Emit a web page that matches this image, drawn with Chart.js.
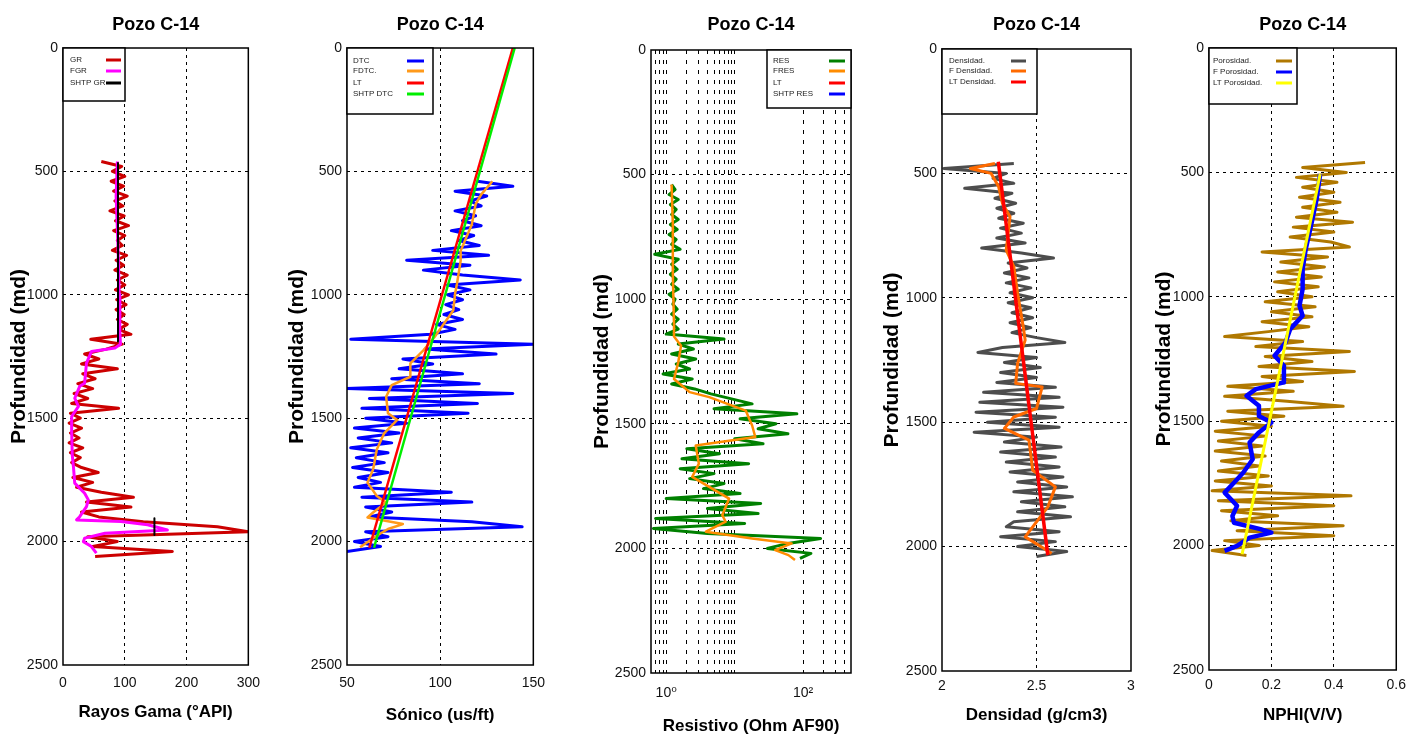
<!DOCTYPE html>
<html>
<head>
<meta charset="utf-8">
<script src="https://cdn.jsdelivr.net/npm/chart.js@4.4.1/dist/chart.umd.min.js"></script>
<style>
    html, body { margin: 0; padding: 0; background: #fff; }
    body { width: 1413px; height: 739px; position: relative; overflow: hidden; }
    canvas { position: absolute; top: 0; }
</style>
</head>
<body>
<canvas id="gr" width="270" height="739" style="left:0"></canvas>
<canvas id="dtc" width="270" height="739" style="left:285px"></canvas>
<canvas id="res" width="280" height="739" style="left:590px"></canvas>
<canvas id="dens" width="270" height="739" style="left:880px"></canvas>
<canvas id="poro" width="263" height="739" style="left:1150px"></canvas>
<script>
// depth samples (md) shared by the raw logs
const DEPTH = [
    460, 480, 500, 520, 540, 560, 580, 600, 620, 640,
    660, 680, 700, 720, 740, 760, 780, 800, 820, 840,
    860, 880, 900, 920, 940, 960, 980, 1000, 1020, 1040,
    1060, 1080, 1100, 1120, 1140, 1160, 1180, 1200, 1220, 1240,
    1260, 1280, 1300, 1320, 1340, 1360, 1380, 1400, 1420, 1440,
    1460, 1480, 1500, 1520, 1540, 1560, 1580, 1600, 1620, 1640,
    1660, 1680, 1700, 1720, 1740, 1760, 1780, 1800, 1820, 1840,
    1860, 1880, 1900, 1920, 1940, 1960, 1980, 2000, 2020, 2040,
    2060,
];
const DEPTH_TICKS = [0, 500, 1000, 1500, 2000, 2500];

// Rayos Gama
const GR = [
    62, 95, 80, 100, 78, 98, 82, 104, 84, 97,
    76, 99, 85, 106, 82, 100, 88, 96, 80, 103,
    86, 98, 84, 104, 88, 100, 85, 106, 87, 102,
    86, 99, 88, 104, 90, 110, 45, 96, 70, 35,
    58, 30, 88, 32, 52, 24, 48, 18, 40, 14,
    90, 12, 28, 10, 30, 12, 26, 10, 32, 12,
    28, 14, 30, 57, 16, 48, 22, 62, 114, 38,
    110, 30, 58, 130, 250, 300, 40, 88, 48, 177,
    52,
];
const FGR_DEPTH = [460, 600, 800, 1000, 1150, 1200, 1216, 1230, 1277, 1358, 1371, 1419, 1452, 1493, 1550, 1650, 1700, 1763, 1804, 1831, 1858, 1899, 1912, 1919, 1932, 1953, 1966, 1986, 2000, 2020, 2047];
const FGR = [88, 86, 89, 91, 92, 93, 84, 46, 38, 35, 27, 19, 25, 14, 14, 15, 17, 19, 35, 41, 38, 27, 22, 94, 137, 169, 68, 35, 33, 46, 54];
const SHTP_GR_DEPTH = [466, 1189, null, 1905, 1973];
const SHTP_GR = [89, 89, null, 148, 148];
const GR_TICKS = [0, 100, 200, 300];

// Sónico
const DTC = [
    null, null, null, null, 120, 139, 108, 125, 116, 122,
    108, 119, 112, 122, 106, 118, 110, 121, 96, 126,
    82, 116, 91, 112, 143, 104, 116, 104, 112, 103,
    110, 102, 112, 98, 108, 95, 52, 150, 92, 130,
    80, 96, 78, 112, 74, 121, 50, 139, 62, 120,
    58, 115, 60, 82, 54, 78, 56, 74, 52, 72,
    55, 70, 53, 72, 56, 68, 54, 106, 58, 117,
    60, 74, 62, 117, 144, 60, 72, 54, 68, 50,
    null,
];
const FDTC_DEPTH = [540, 594, 634, 715, 768, 822, 862, 956, 996, 1064, 1117, 1171, 1225, 1278, 1332, 1366, 1413, 1480, 1507, 1560, 1627, 1708, 1761, 1815, 1842, 1882, 1902, 1929, 1949, 1976, 2023];
const FDTC = [128, 122, 119, 117, 114, 111, 111, 109, 108, 107, 102, 97, 91, 84, 84, 74, 71, 72, 77, 70, 66, 64, 61, 66, 71, 64, 61, 80, 72, 66, 57];
const LT_DTC_DEPTH = [0, 2025];
const LT_DTC = [139, 62];
const SHTP_DTC_DEPTH = [0, 2025];
const SHTP_DTC = [140, 64.5];
const DTC_TICKS = [50, 100, 150];

// Resistivo
const RES = [
    null, null, null, null, 1.2, 1.35, 1.1, 1.5, 1.15, 1.4,
    1.2, 1.5, 1.15, 1.45, 1.1, 1.4, 1.2, 1.6, 0.68, 1.5,
    1.2, 1.45, 1.15, 1.4, 1.2, 1.5, 1.1, 1.35, 1.25, 1.45,
    1.2, 1.5, 1.25, 1.5, 1.0, 7.0, 1.5, 2.5, 1.2, 2.7,
    1.4, 2.2, 0.9, 2.4, 1.2, 2.6, 4.5, 9, 18, 5,
    81, 12, 40, 22, 60, 10, 26, 2, 6, 1.7,
    16, 1.6, 5, 2.2, 7, 3.5, 12, 1.0, 24, 4,
    22, 0.7, 14, 0.65, 4, 180, 60, 30, 130, 90,
    null,
];
const FRES_DEPTH = [540, 700, 900, 1100, 1150, 1187, 1253, 1320, 1373, 1393, 1447, 1507, 1553, 1587, 1660, 1713, 1800, 1867, 1893, 1933, 1960, 1980, 2007, 2027, 2047];
const FRES = [1.2, 1.25, 1.25, 1.3, 1.3, 1.65, 1.5, 1.3, 2.2, 4.25, 14.5, 18, 20, 2.7, 3.0, 2.4, 8.3, 6.6, 7.4, 3.8, 18, 68, 39, 61, 76];
const RES_TICKS = [0.7, 0.8, 0.9, 1, 2, 3, 4, 5, 6, 7, 8, 9, 10, 100, 200, 300, 400];

// Densidad
const DENS = [
    2.38, 2.01, 2.34, 2.27, 2.38, 2.12, 2.37, 2.28, 2.39, 2.29,
    2.38, 2.30, 2.43, 2.31, 2.42, 2.29, 2.44, 2.21, 2.42, 2.59,
    2.35, 2.45, 2.33, 2.46, 2.34, 2.47, 2.36, 2.48, 2.35, 2.47,
    2.37, 2.48, 2.36, 2.47, 2.37, 2.50, 2.65, 2.32, 2.19, 2.50,
    2.33, 2.52, 2.31, 2.50, 2.29, 2.60, 2.22, 2.62, 2.20, 2.64,
    2.18, 2.60, 2.24, 2.62, 2.17, 2.50, 2.33, 2.63, 2.31, 2.60,
    2.34, 2.62, 2.36, 2.64, 2.40, 2.66, 2.38, 2.69, 2.42, 2.65,
    2.40, 2.68, 2.38, 2.34, 2.62, 2.31, 2.60, 2.40, 2.66, 2.50,
    null,
];
const FDENS_DEPTH = [460, 480, 500, 554, 621, 674, 808, 875, 983, 1117, 1170, 1264, 1344, 1358, 1445, 1479, 1525, 1572, 1693, 1760, 1840, 1921, 1961, 2008, 2028];
const FDENS = [2.28, 2.15, 2.26, 2.30, 2.32, 2.36, 2.34, 2.38, 2.40, 2.43, 2.44, 2.40, 2.39, 2.53, 2.50, 2.38, 2.33, 2.46, 2.48, 2.60, 2.56, 2.48, 2.44, 2.54, 2.58];
const LT_DENS_DEPTH = [453, 2035];
const LT_DENS = [2.298, 2.56];
const DENS_TICKS = [2, 2.5, 3];

// Porosidad
const PORO = [
    0.50, 0.30, 0.44, 0.28, 0.41, 0.30, 0.40, 0.29, 0.42, 0.30,
    0.41, 0.28, 0.46, 0.27, 0.40, 0.26, 0.39, 0.45, 0.17, 0.38,
    0.23, 0.37, 0.22, 0.36, 0.21, 0.35, 0.22, 0.33, 0.18, 0.34,
    0.20, 0.33, 0.17, 0.32, 0.19, 0.05, 0.30, 0.15, 0.45, 0.18,
    0.33, 0.16, 0.466, 0.17, 0.30, 0.06, 0.27, 0.05, 0.25, 0.43,
    0.06, 0.24, 0.04, 0.20, 0.02, 0.18, 0.03, 0.17, 0.02, 0.18,
    0.04, 0.16, 0.03, 0.19, 0.02, 0.20, 0.01, 0.455, 0.03, 0.40,
    0.04, 0.22, 0.07, 0.43, 0.09, 0.40, 0.05, 0.16, 0.01, 0.12,
    null,
];
const FPORO_DEPTH = [507, 607, 714, 808, 889, 969, 1036, 1076, 1130, 1184, 1237, 1277, 1344, 1371, 1398, 1438, 1479, 1505, 1545, 1586, 1653, 1706, 1747, 1787, 1840, 1881, 1908, 1934, 1948, 1968, 2001, 2021];
const FPORO = [0.356, 0.345, 0.327, 0.31, 0.30, 0.30, 0.29, 0.30, 0.26, 0.245, 0.21, 0.24, 0.24, 0.15, 0.12, 0.16, 0.16, 0.20, 0.16, 0.13, 0.14, 0.11, 0.08, 0.05, 0.09, 0.075, 0.08, 0.165, 0.20, 0.13, 0.09, 0.05];
const LT_PORO_DEPTH = [507, 2035];
const LT_PORO = [0.356, 0.106];
const PORO_TICKS = [0, 0.2, 0.4, 0.6];

const FONT = '"Liberation Sans", Arial, "DejaVu Sans", sans-serif';
const H = 739;
Chart.defaults.font.family = FONT;

const pts = (xs, ys) => xs.map((x, i) => ({ x, y: ys[i] }));
const curve = (label, xs, ys, color, width, order) => ({
    label, data: pts(xs, ys), borderColor: color, backgroundColor: color,
    borderWidth: width, order, showLine: true, pointRadius: 0, spanGaps: false,
    borderJoinStyle: 'round',
});

// no grid line on the frame edges
const edgeless = c => (c.tick && (c.tick.value === c.scale.min || c.tick.value === c.scale.max)) ? 'rgba(0,0,0,0)' : '#000';

// plot frame + boxed legend inside the plot
const boxLegend = {
    id: 'boxLegend',
    afterDraw(chart, args, o) {
        const { ctx, chartArea: a } = chart;
        ctx.save();
        ctx.strokeStyle = '#000';
        ctx.lineWidth = 1.5;
        ctx.strokeRect(a.left, a.top, a.width, a.height);
        const x0 = o.right ? a.right - o.w : a.left;
        ctx.fillStyle = '#fff';
        ctx.fillRect(x0, a.top, o.w, o.h);
        ctx.strokeRect(x0, a.top, o.w, o.h);
        ctx.font = '8px ' + FONT;
        ctx.textBaseline = 'middle';
        chart.data.datasets.forEach((ds, i) => {
            const y = a.top + o.rows[i];
            ctx.fillStyle = '#222';
            ctx.fillText(ds.label, x0 + o.tx, y);
            ctx.strokeStyle = ds.borderColor;
            ctx.lineWidth = 3;
            ctx.beginPath();
            ctx.moveTo(x0 + o.l1, y);
            ctx.lineTo(x0 + o.l2, y);
            ctx.stroke();
        });
        ctx.restore();
    },
};

function panel(id, p) {
    return new Chart(document.getElementById(id), {
        type: 'scatter',
        data: { datasets: p.datasets },
        plugins: [boxLegend],
        options: {
            responsive: false,
            animation: false,
            events: [],
            layout: { padding: { left: 0, top: 0, bottom: 0, right: p.padRight } },
            plugins: {
                legend: { display: false },
                tooltip: { enabled: false },
                title: {
                    display: true, text: 'Pozo C-14', fullSize: false, color: '#000',
                    font: { size: 18, weight: 'bold' },
                    padding: { top: 14, bottom: p.top - 35.6 },
                },
                boxLegend: p.legend,
            },
            scales: {
                x: {
                    type: p.logX ? 'logarithmic' : 'linear', position: 'bottom',
                    min: p.xMin, max: p.xMax,
                    afterBuildTicks: s => { s.ticks = p.xTicks.map(value => ({ value })); },
                    afterFit: s => { s.height = H - p.bottom; },
                    ticks: { autoSkip: false, maxRotation: 0, padding: p.xTickPad, color: '#111', font: { size: 14 }, callback: p.xLabel || (v => String(v)) },
                    grid: { color: edgeless, lineWidth: 1, drawTicks: false },
                    border: { display: false, dash: p.xDash || [3, 4] },
                    title: { display: true, text: p.xTitle, color: '#000', font: { size: 17, weight: 'bold' }, padding: { top: 0, bottom: p.xTitlePad } },
                },
                y: {
                    type: 'linear', reverse: true, min: 0, max: 2500,
                    afterBuildTicks: s => { s.ticks = DEPTH_TICKS.map(value => ({ value })); },
                    afterFit: s => { s.width = p.yWidth; },
                    ticks: { padding: 5, color: '#111', font: { size: 14 }, callback: v => String(v) },
                    grid: { color: edgeless, lineWidth: 1, drawTicks: false },
                    border: { display: false, dash: [3, 4] },
                    title: { display: true, text: 'Profundidad (md)', color: '#000', font: { size: 21, weight: 'bold' }, padding: { top: p.yTitlePad, bottom: 0 } },
                },
            },
        },
    });
}

panel('gr', {
    datasets: [
        curve('GR', GR, DEPTH, '#cc0000', 3, 3),
        curve('FGR', FGR, FGR_DEPTH, '#ff00ff', 3, 2),
        curve('SHTP GR', SHTP_GR, SHTP_GR_DEPTH, '#000000', 2, 1),
    ],
    xMin: 0, xMax: 300, xTicks: GR_TICKS, xTitle: 'Rayos Gama (°API)',
    top: 48, bottom: 665, yWidth: 63, padRight: 20, xTickPad: 10, xTitlePad: 16, yTitlePad: 7,
    legend: { w: 62, h: 53, rows: [12, 23, 35], tx: 7, l1: 43, l2: 58 },
});

panel('dtc', {
    datasets: [
        curve('DTC', DTC, DEPTH, '#0000ff', 3, 4),
        curve('FDTC.', FDTC, FDTC_DEPTH, '#ff9a1a', 2.5, 3),
        curve('LT', LT_DTC, LT_DTC_DEPTH, '#ff0000', 2.5, 2),
        curve('SHTP DTC', SHTP_DTC, SHTP_DTC_DEPTH, '#00ee00', 2.5, 1),
    ],
    xMin: 50, xMax: 150, xTicks: DTC_TICKS, xTitle: 'Sónico (us/ft)',
    top: 48, bottom: 665, yWidth: 62, padRight: 20, xTickPad: 10, xTitlePad: 13, yTitlePad: 0,
    legend: { w: 86, h: 66, rows: [13, 23, 35, 46], tx: 6, l1: 60, l2: 77 },
});

panel('res', {
    datasets: [
        curve('RES', RES, DEPTH, '#008000', 3, 4),
        curve('FRES', FRES, FRES_DEPTH, '#ff8c00', 2.5, 3),
        curve('LT', [], [], '#ff0000', 2.5, 2),
        curve('SHTP RES', [], [], '#0000ff', 2.5, 1),
    ],
    logX: true, xMin: 0.63, xMax: 500, xTicks: RES_TICKS, xDash: [4, 6],
    xLabel: v => (v === 1 ? '10⁰' : v === 100 ? '10²' : ''),
    xTitle: 'Resistivo (Ohm AF90)',
    top: 50, bottom: 673, yWidth: 61, padRight: 19, xTickPad: 12, xTitlePad: 2, yTitlePad: 0,
    legend: { right: true, w: 84, h: 58, rows: [11, 21, 33, 44], tx: 6, l1: 62, l2: 78 },
});

panel('dens', {
    datasets: [
        curve('Densidad.', DENS, DEPTH, '#4d4d4d', 3, 3),
        curve('F Densidad.', FDENS, FDENS_DEPTH, '#ff6a00', 3, 2),
        curve('LT Densidad.', LT_DENS, LT_DENS_DEPTH, '#ff0000', 3.5, 1),
    ],
    xMin: 2, xMax: 3, xTicks: DENS_TICKS, xTitle: 'Densidad (g/cm3)',
    top: 49, bottom: 671, yWidth: 62, padRight: 19, xTickPad: 7, xTitlePad: 13, yTitlePad: 0,
    legend: { w: 95, h: 65, rows: [12, 22, 33], tx: 7, l1: 69, l2: 84 },
});

panel('poro', {
    datasets: [
        curve('Porosidad.', PORO, DEPTH, '#b07800', 3, 3),
        curve('F Porosidad.', FPORO, FPORO_DEPTH, '#0000ff', 4.5, 2),
        curve('LT Porosidad.', LT_PORO, LT_PORO_DEPTH, '#ffff00', 3, 1),
    ],
    xMin: 0, xMax: 0.6, xTicks: PORO_TICKS, xTitle: 'NPHI(V/V)',
    top: 48, bottom: 670, yWidth: 59, padRight: 12, xTickPad: 7, xTitlePad: 13, yTitlePad: 2,
    legend: { w: 88, h: 56, rows: [13, 24, 35], tx: 4, l1: 67, l2: 83 },
});
</script>
</body>
</html>
